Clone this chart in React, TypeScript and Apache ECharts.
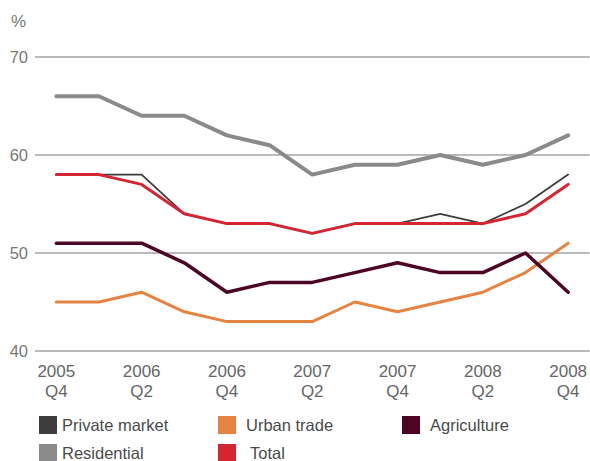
import React, { useEffect, useRef } from "react";
import * as echarts from "echarts";

const categories = [
  "2005\nQ4", "2006\nQ1", "2006\nQ2", "2006\nQ3", "2006\nQ4", "2007\nQ1", "2007\nQ2",
  "2007\nQ3", "2007\nQ4", "2008\nQ1", "2008\nQ2", "2008\nQ3", "2008\nQ4",
];
const residential = [66, 66, 64, 64, 62, 61, 58, 59, 59, 60, 59, 60, 62];
const privateMarket = [58, 58, 58, 54, 53, 53, 52, 53, 53, 54, 53, 55, 58];
const total = [58, 58, 57, 54, 53, 53, 52, 53, 53, 53, 53, 54, 57];
const agriculture = [51, 51, 51, 49, 46, 47, 47, 48, 49, 48, 48, 50, 46];
const urbanTrade = [45, 45, 46, 44, 43, 43, 43, 45, 44, 45, 46, 48, 51];
const yTicks = [40, 50, 60, 70];

const FONT = "Liberation Sans, Arial, sans-serif";

export default function App() {
  const ref = useRef<HTMLDivElement>(null);
  useEffect(() => {
    if (!ref.current) return;
    const chart = echarts.init(ref.current, null, { renderer: "svg" });
    const line = (name: string, data: number[], color: string, width: number, z: number) => ({
      name,
      type: "line",
      data,
      symbol: "none",
      z,
      itemStyle: { color },
      lineStyle: { color, width, join: "round", cap: "round" },
    });
    const legendItem = (name: string, left: number, top: number, color: string, gap: number) => ({
      data: [name],
      left,
      top,
      padding: 0,
      icon: "rect",
      itemWidth: 18,
      itemHeight: 18,
      itemGap: 0,
      selectedMode: false,
      textStyle: { color: "#4a4a4a", fontSize: 16.5, fontFamily: FONT, padding: [0, 0, 0, gap] },
      itemStyle: { color },
    });
    chart.setOption({
      animation: false,
      grid: { left: 35, right: -1, top: 57, bottom: 110, containLabel: false },
      graphic: [
        {
          type: "text",
          left: 11,
          top: 13,
          style: { text: "%", fill: "#777", fontSize: 17, fontFamily: FONT },
        },
      ],
      legend: [
        legendItem("Private market", 39, 416, "#3d3d3d", 0),
        legendItem("Urban trade", 218, 416, "#e58342", 5),
        legendItem("Agriculture", 402, 416, "#4d0525", 5),
        legendItem("Residential", 39, 444, "#8a8a8a", 0),
        legendItem("Total", 218, 444, "#d42533", 9),
      ],
      xAxis: {
        type: "category",
        data: categories,
        boundaryGap: true,
        axisLine: { show: false },
        axisTick: { show: false },
        axisLabel: {
          interval: 1,
          color: "#666",
          fontSize: 17,
          fontFamily: FONT,
          lineHeight: 20,
          margin: 10,
        },
      },
      yAxis: {
        type: "value",
        min: yTicks[0],
        max: yTicks[yTicks.length - 1],
        interval: 10,
        axisLine: { show: false },
        axisTick: { show: false },
        axisLabel: { color: "#777", fontSize: 16.5, fontFamily: FONT, margin: 7 },
        splitLine: { lineStyle: { color: "#a3a3a3", width: 1.5 } },
      },
      series: [
        line("Residential", residential, "#8a8a8a", 4, 2),
        line("Urban trade", urbanTrade, "#e58342", 3, 3),
        line("Agriculture", agriculture, "#4d0525", 3.5, 4),
        line("Private market", privateMarket, "#3d3d3d", 1.8, 5),
        line("Total", total, "#d42533", 3, 6),
      ],
    });
    return () => chart.dispose();
  }, []);
  return (
    <div
      ref={ref}
      style={{ position: "absolute", left: 0, top: 0, width: 590, height: 461 }}
    />
  );
}
